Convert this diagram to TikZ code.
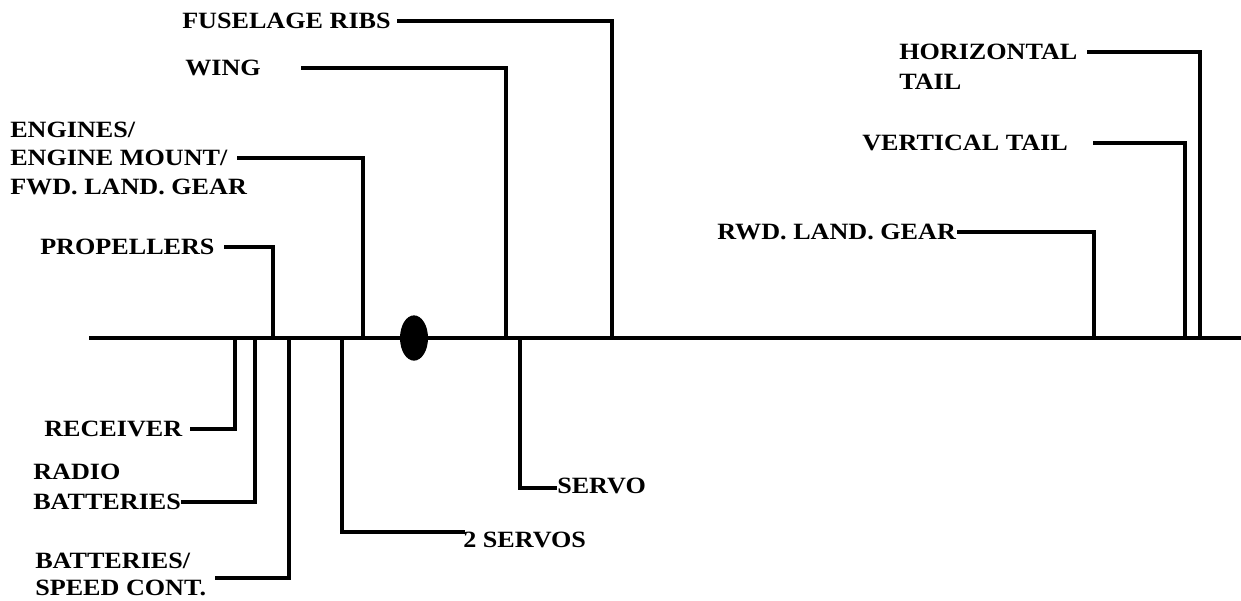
\documentclass[tikz,border=0pt]{standalone}
\usepackage{fontspec}
\newfontfamily\labfamily{Liberation Serif}[FakeStretch=1.12]
\usetikzlibrary{shapes.geometric}
\begin{document}
\begin{tikzpicture}[x=0.75pt,y=-0.75pt,
  lab/.style={font=\labfamily\bfseries\fontsize{17.5}{20}\selectfont, inner sep=0pt, anchor=west},
  conn/.style={line width=2.3pt, line join=miter, line cap=rect},
  mainline/.style={line width=3pt},
  cgmark/.style={ellipse, fill=black, draw=none, minimum width=21pt, minimum height=34pt, inner sep=0pt}]
\useasboundingbox (0,0) rectangle (1241,600);

% main line
\coordinate (L) at (89,338);
\coordinate (R) at (1241,338);
\draw[mainline] (L) -- (R);
\node[cgmark] (cg) at (414,338) {};

% attachment points on the main line
\coordinate (pFus) at (612,338);
\coordinate (pWing) at (506,338);
\coordinate (pEng) at (363,338);
\coordinate (pProp) at (273,338);
\coordinate (pRwd) at (1094,338);
\coordinate (pVt) at (1185,338);
\coordinate (pHt) at (1200,338);
\coordinate (pRec) at (235,338);
\coordinate (pRad) at (255,338);
\coordinate (pBs) at (289,338);
\coordinate (p2s) at (342,338);
\coordinate (pServo) at (520,338);

% labels above
\node[lab] (fus) at (182,21) {FUSELAGE RIBS};
\node[lab] (wing) at (185,68) {WING};
\node[lab] (eng1) at (10,130) {ENGINES/};
\node[lab] (eng2) at (10,158) {ENGINE MOUNT/};
\node[lab] (eng3) at (10,187) {FWD. LAND. GEAR};
\node[lab] (prop) at (40,247) {PROPELLERS};
\node[lab] (rwd) at (717,232) {RWD. LAND. GEAR};
\node[lab] (vt) at (862,143) {VERTICAL TAIL};
\node[lab] (ht1) at (899,52) {HORIZONTAL};
\node[lab] (ht2) at (899,82) {TAIL};

% labels below
\node[lab] (rec) at (44,429) {RECEIVER};
\node[lab] (rad1) at (33,472) {RADIO};
\node[lab] (rad2) at (33,502) {BATTERIES};
\node[lab] (bs1) at (35,561) {BATTERIES/};
\node[lab] (bs2) at (35,588) {SPEED CONT.};
\node[lab] (s2) at (463,540) {2 SERVOS};
\node[lab] (servo) at (557,486) {SERVO};

% connectors above
\draw[conn] ([xshift=6]fus.east) -| (pFus);
\draw[conn] ([xshift=31]wing.east) -| (pWing);
\draw[conn] ([xshift=8]eng2.east) -| (pEng);
\draw[conn] ([xshift=8]prop.east) -| (pProp);
\draw[conn] ([xshift=2]rwd.east) -| (pRwd);
\draw[conn] ([xshift=20]vt.east) -| (pVt);
\draw[conn] ([xshift=8]ht1.east) -| (pHt);

% connectors below
\draw[conn] ([xshift=7]rec.east) -| (pRec);
\draw[conn] ([xshift=1]rad2.east) -| (pRad);
\draw[conn] ([shift={(10,-10)}]bs2.east) -| (pBs);
\draw[conn] (p2s) |- ([shift={(0,-8)}]s2.west);
\draw[conn] (pServo) |- ([shift={(-2,2)}]servo.west);
\end{tikzpicture}
\end{document}
